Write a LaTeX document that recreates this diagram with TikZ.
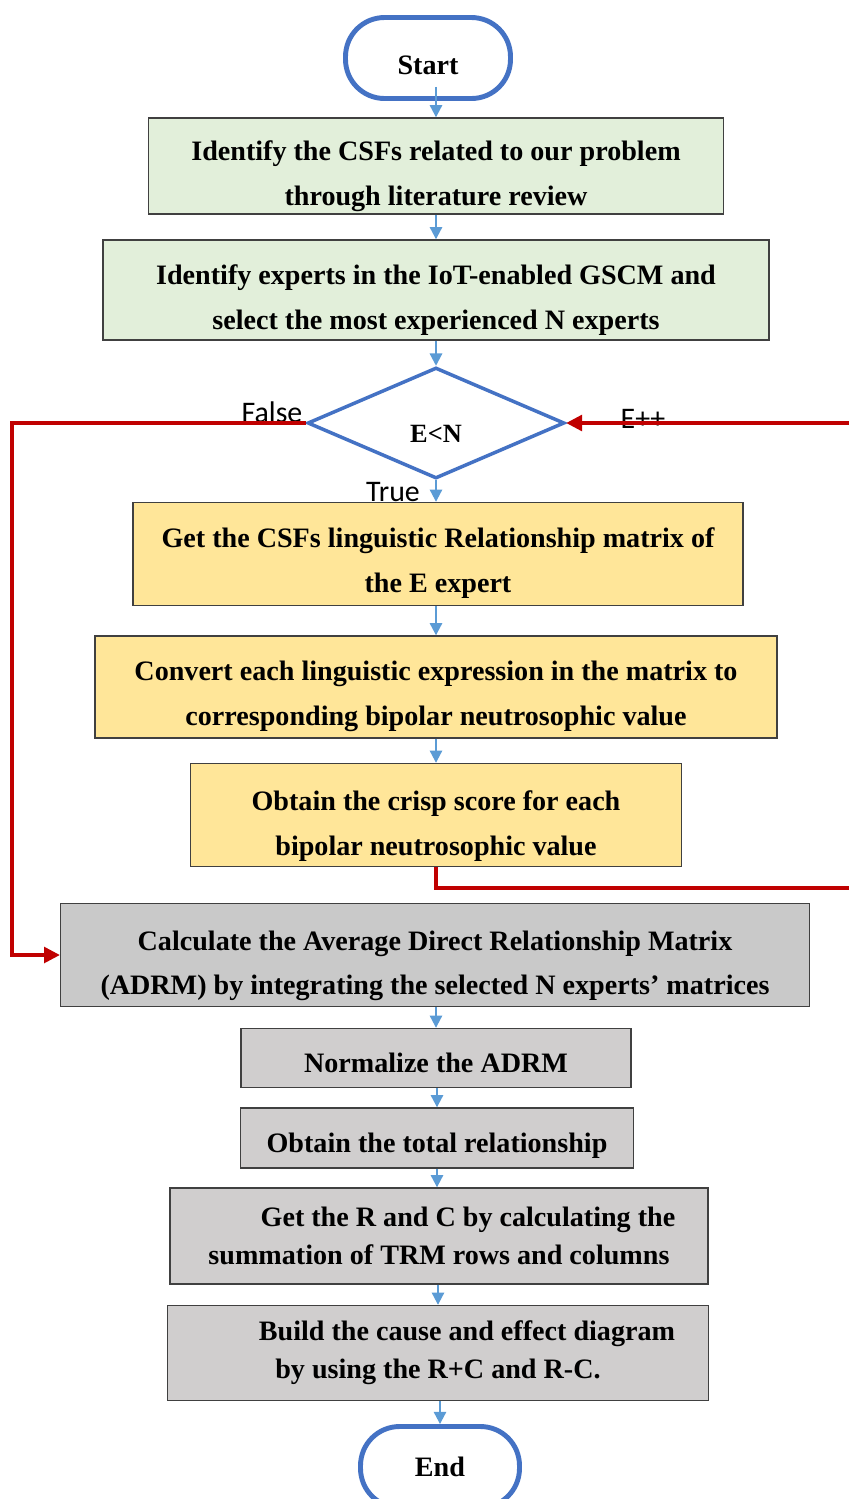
\documentclass[tikz,border=0pt]{standalone}
\usepackage{fontspec}
\setmainfont{Liberation Serif}
\newfontfamily\labelfont{Carlito}
\usetikzlibrary{shapes.geometric,arrows.meta}
\definecolor{termblue}{HTML}{4472C4}
\definecolor{flowblue}{HTML}{5B9BD5}
\definecolor{loopred}{HTML}{C00000}
\definecolor{stepgreen}{HTML}{E2EFDA}
\definecolor{stepyellow}{HTML}{FFE699}
\definecolor{stepgray}{HTML}{C9C9C9}
\definecolor{steplight}{HTML}{D0CECE}
\newcommand\firstline[1]{\rule{0pt}{#1}}
\begin{document}
\begin{tikzpicture}[x=0.02cm,y=-0.02cm,
        terminal/.style={draw=termblue,line width=2.8pt,rounded corners=0.78cm,minimum width=3.3cm,minimum height=1.62cm,font=\bfseries\fontsize{16}{20}\selectfont},
        stepbox/.style={draw=black!75,line width=0.8pt,align=center,inner sep=0pt,font=\bfseries\fontsize{16}{25.5}\selectfont},
        flow/.style={draw=flowblue,line width=1.2pt,-{Triangle[length=7pt,width=7pt]}},
        back/.style={draw=loopred,line width=1.8pt,-{Triangle[length=9pt,width=9pt]}},
        tag/.style={font=\labelfont\fontsize{17}{20}\selectfont,inner sep=0pt}]
        \useasboundingbox (0,0) rectangle (849,1499);

        \node[terminal] (start) at (428,58) {\firstline{19pt}Start};
        \node[stepbox,fill=stepgreen,minimum width=11.5cm,minimum height=1.92cm] (csf) at (436,166)
            {\firstline{22.5pt}Identify the CSFs related to our problem\\through literature review};
        \node[stepbox,fill=stepgreen,minimum width=13.32cm,minimum height=2cm] (experts) at (436,290)
            {\firstline{23pt}Identify experts in the IoT-enabled GSCM and\\select the most experienced N experts};
        \node[diamond,draw=termblue,line width=2pt,inner sep=0pt,shape aspect=2,minimum width=5.14cm,minimum height=2.22cm,
            font=\bfseries\fontsize{15}{18}\selectfont] (cond) at (436,423) {\firstline{22pt}E<N};
        \node[stepbox,fill=stepyellow,minimum width=12.2cm,minimum height=2.06cm] (linguistic) at (438,554)
            {\firstline{21.5pt}Get the CSFs linguistic Relationship matrix of\\the E expert};
        \node[stepbox,fill=stepyellow,minimum width=13.64cm,minimum height=2.04cm] (convert) at (436,687)
            {\firstline{21.5pt}Convert each linguistic expression in the matrix to\\corresponding bipolar neutrosophic value};
        \node[stepbox,fill=stepyellow,minimum width=9.82cm,minimum height=2.06cm] (crisp) at (436,815)
            {\firstline{23.5pt}Obtain the crisp score for each\\bipolar neutrosophic value};
        \node[stepbox,fill=stepgray,minimum width=14.98cm,minimum height=2.06cm] (adrm) at (435,955)
            {\firstline{23.5pt}Calculate the Average Direct Relationship Matrix\\(ADRM) by integrating the selected N experts' matrices};
        \node[stepbox,fill=steplight,minimum width=7.8cm,minimum height=1.18cm] (normal) at (436,1058)
            {\firstline{16.5pt}Normalize the ADRM};
        \node[stepbox,fill=steplight,minimum width=7.86cm,minimum height=1.2cm] (total) at (437,1138)
            {\firstline{20pt}Obtain the total relationship};
        \node[stepbox,fill=steplight,minimum width=10.76cm,minimum height=1.92cm] (rc) at (439,1236)
            {\hspace*{33pt}Get the R and C by calculating the\\[-4pt]summation of TRM rows and columns};
        \node[stepbox,fill=steplight,minimum width=10.82cm,minimum height=1.9cm] (diagram) at (438,1353)
            {\hspace*{33pt}Build the cause and effect diagram\\[-4pt]by using the R+C and R-C.};
        \node[terminal,minimum width=3.18cm] (end) at (440,1467) {End};

        \node[tag] (lblfalse) at (272,412) {False};
        \node[tag] (lbltrue) at (393,492) {True};
        \node[tag] (lblinc) at (643,419) {E++};

        \coordinate (falsecorner) at (12,423);
        \coordinate (loopin) at (849,423);
        \coordinate (loopout) at (849,888);

        \draw[flow] ([yshift=0.28cm]start.south -| csf.north) -- (csf.north);
        \draw[flow] (csf.south) -- (experts.north);
        \draw[flow] (experts.south) -- (cond.north);
        \draw[flow] (cond.south) -- (linguistic.north -| cond.south);
        \draw[flow] (linguistic.south -| convert.north) -- (convert.north);
        \draw[flow] (convert.south) -- (crisp.north);
        \draw[flow] (adrm.south -| normal.north) -- (normal.north);
        \draw[flow] (normal.south -| total.north) -- (total.north);
        \draw[flow] (total.south) -- (total.south |- rc.north);
        \draw[flow] (rc.south -| diagram.north) -- (diagram.north);
        \draw[flow] (diagram.south -| end.north) -- (end.north);

        \draw[back] (cond.west) -- (falsecorner) |- (adrm.west);
        \draw[back] (loopin) -- (cond.east);
        \draw[draw=loopred,line width=1.8pt] (crisp.south) |- (loopout);
    \end{tikzpicture}
\end{document}
